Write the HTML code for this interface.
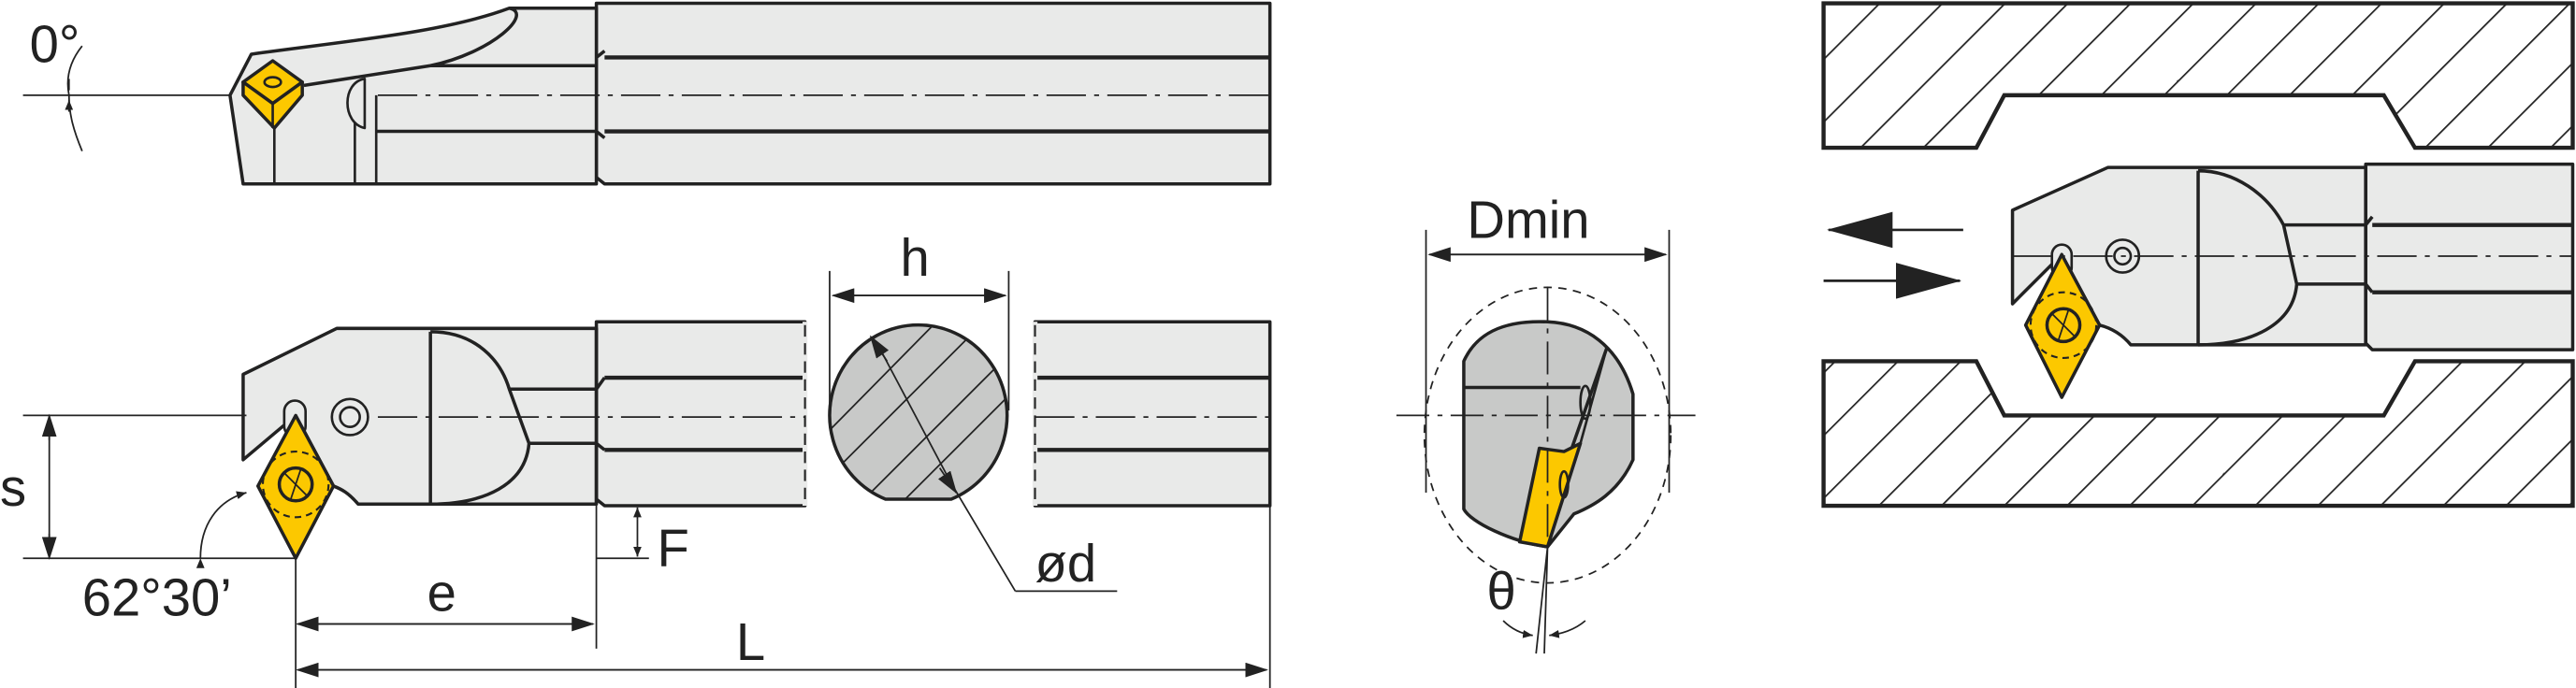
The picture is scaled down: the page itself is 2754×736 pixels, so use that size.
<!DOCTYPE html>
<html><head><meta charset="utf-8"><style>html,body{margin:0;padding:0;background:#fff}svg{display:block}text{font-family:"Liberation Sans",sans-serif;fill:#222}</style></head><body>
<svg width="2754" height="736" viewBox="0 0 1568 419" preserveAspectRatio="none" xmlns="http://www.w3.org/2000/svg">
<defs>
<pattern id="hat" patternUnits="userSpaceOnUse" width="27" height="27" patternTransform="rotate(45)">
<rect width="27" height="27" fill="#fff"/><line x1="0" y1="0" x2="0" y2="27" stroke="#222" stroke-width="2"/></pattern>
<clipPath id="sec"><path d="M539,304A54,55 0 1 1 579,304Z"/></clipPath>
<marker id="a" markerWidth="14" markerHeight="9" refX="13" refY="4.5" orient="auto" markerUnits="userSpaceOnUse"><path d="M0,0L14,4.5L0,9z" fill="#222"/></marker>
<marker id="as" markerWidth="6" markerHeight="5" refX="6" refY="2.5" orient="auto" markerUnits="userSpaceOnUse"><path d="M0,0L6,2.5L0,5z" fill="#222"/></marker>
<marker id="ab" markerWidth="40" markerHeight="22" refX="39" refY="11" orient="auto" markerUnits="userSpaceOnUse"><path d="M0,0L40,11L0,22z" fill="#222"/></marker>
</defs>
<g stroke="#222" stroke-width="2" fill="#e9eae9" stroke-linejoin="round">
<!-- TOP VIEW -->
<path d="M363,2H773V112H368L363,108V35Z"/>
<path d="M368,35H773M368,80H773" fill="none" stroke-width="2.5"/>
<path d="M363,35L368,31M363,80L368,84" fill="none"/>
<path d="M140,58L153,33C210,25 270,20 310,5H363V112H148Z"/>
<path d="M310,5C325,8 300,32 262,40H363M185,52L262,40" fill="none"/>
<path d="M229,80H363" fill="none"/>
<path d="M167,75V112M216,65V112M229,58V112" fill="none" stroke-width="1.5"/>
<path d="M222,48C208,50 208,75 222,78Z" fill="#e9eae9" stroke-width="1.5"/>
<path d="M148,50L166,37L184,50L166,63Z" fill="#fcc800"/>
<path d="M148,50V58L167,78L184,58V50L166,63Z" fill="#fcc800"/>
<path d="M166,63V78" fill="none" stroke-width="1.5"/>
<ellipse cx="166" cy="50" rx="5" ry="3" fill="none" stroke-width="1.5"/>
<!-- BOTTOM VIEW -->
<path d="M363,196H490V308H368L363,304Z"/>
<path d="M630,196H773V308H630Z"/>
<path d="M368,230H490M368,274H490M630,230H773M630,274H773" fill="none" stroke-width="2.5"/>
<path d="M490,196V308M630,196V308" fill="none" stroke="#e9eae9" stroke-width="3"/>
<path d="M490,198V308M630,198V308" fill="none" stroke-width="1.2" stroke-dasharray="7,4"/>
<path d="M148,228L205,200H363V307H218C212,300 208,298 203,296L180,253L148,280Z"/>
<path d="M363,200V307M363,237L368,230M363,270L368,274" fill="none"/>
<path d="M262,202V307M262,202C290,202 305,220 310,237H363M310,237L322,270H363M322,270C320,295 295,307 262,307" fill="none"/>
<path d="M539,304A54,55 0 1 1 579,304Z" fill="#c8c9c8"/>
<g clip-path="url(#sec)" stroke-width="1" fill="none">
<path d="M505,262L570,196M505,290L598,197M525,305L613,217M545,310L615,240"/>
</g>
<circle cx="213" cy="254" r="11" fill="none" stroke-width="1.5"/><circle cx="213" cy="254" r="6" fill="none" stroke-width="1.5"/>
<rect x="173" y="244" width="13" height="22" rx="6.5" fill="#e9eae9" stroke-width="1.5"/>
<path d="M180,253L203,296L180,340L157,296Z" fill="#fcc800"/>
<circle cx="180" cy="295" r="20" fill="none" stroke-width="1.2" stroke-dasharray="4,3"/>
<circle cx="180" cy="295" r="10" fill="none"/>
<path d="M173,288L187,302M183,286L177,304" stroke-width="1" fill="none"/>
</g>
<g stroke="#222" stroke-width="1" fill="none">
<path d="M230,58H773M230,254H490M630,254H773" stroke-dasharray="24,5,3,5"/>
<path d="M14,58H140M14,253H150M14,340H180M363,340H395M180,340V419M363,308V395M773,308V419M505,165V250M614,165V250M868,140V300M1016,140V300"/>
<path d="M30,268V253" marker-end="url(#a)"/><path d="M30,325V340" marker-end="url(#a)"/><path d="M30,260V335"/>
<path d="M190,380H361" marker-end="url(#a)"/><path d="M350,380H181" marker-end="url(#a)"/>
<path d="M190,408H771" marker-end="url(#a)"/><path d="M760,408H181" marker-end="url(#a)"/>
<path d="M515,180H612" marker-end="url(#a)"/><path d="M600,180H507" marker-end="url(#a)"/>
<path d="M878,155H1014" marker-end="url(#a)"/><path d="M1004,155H870" marker-end="url(#a)"/>
<path d="M388,316V309" marker-end="url(#as)"/><path d="M388,332V339" marker-end="url(#as)"/>
<path d="M388,316V332"/>
<path d="M537,215L582,300M618,360H680M580,296L618,360"/>
<path d="M540,220L530,205" marker-end="url(#a)"/><path d="M572,285L582,300" marker-end="url(#a)"/>
<path d="M122,340C122,320 132,305 150,300" marker-end="url(#as)" marker-start="url(#as)"/>
<path d="M42,48L42,55M42,68L42,61" marker-end="url(#as)"/>
<path d="M50,28C42,38 40,48 42,58M42,58C42,70 45,80 50,92"/>
</g>
<text x="18" y="38" font-size="32">0°</text>
<text x="0" y="308" font-size="32">s</text>
<text x="50" y="375" font-size="32">62°30’</text>
<text x="260" y="372" font-size="32">e</text>
<text x="400" y="345" font-size="32">F</text>
<text x="448" y="402" font-size="32">L</text>
<text x="548" y="168" font-size="32">h</text>
<text x="630" y="354" font-size="32">ød</text>
<text x="893" y="145" font-size="32">Dmin</text>
<text x="905" y="371" font-size="32">θ</text>
<!-- MIDDLE -->
<g stroke="#222" stroke-width="2" stroke-linejoin="round">
<path d="M891,220C900,200 920,195 942,196C965,197 985,210 994,240V280C985,300 970,308 958,313L942,333C920,330 895,318 891,310Z" fill="#c8c9c8"/>
<path d="M891,236H962" fill="none"/>
<path d="M978,212L955,278L942,333" fill="#c8c9c8"/>
<path d="M937,273L952,275L962,270L942,333L925,330Z" fill="#fcc800"/>
<path d="M962,270L942,333M978,212L962,270" fill="none" stroke-width="1.5"/>
<ellipse cx="965" cy="245" rx="3" ry="10" fill="none" stroke-width="1.5"/>
<ellipse cx="952" cy="295" rx="2.5" ry="8" fill="none" stroke-width="1.5"/>
</g>
<g stroke="#222" stroke-width="1" fill="none">
<ellipse cx="942" cy="265" rx="75" ry="90" stroke-dasharray="5,4"/>
<path d="M850,253H1032M942,175V330" stroke-dasharray="20,5,3,5"/>
<path d="M942,333L935,398M942,333L940,398"/>
<path d="M915,378C920,383 926,386 933,387" marker-end="url(#as)"/><path d="M965,378C958,384 950,386 943,387" marker-end="url(#as)"/>
</g>
<!-- RIGHT -->
<g stroke="#222" stroke-width="2.5">
<path d="M1110,2H1566V90H1470L1451,58H1220L1203,90H1110Z" fill="url(#hat)"/>
<path d="M1110,220H1203L1220,253H1451L1470,220H1566V308H1110Z" fill="url(#hat)"/>
</g>
<g stroke="#222" stroke-width="2" fill="#e9eae9" stroke-linejoin="round">
<path d="M1440,100H1566V213H1444L1440,209Z"/>
<path d="M1444,137H1566M1444,178H1566" fill="none" stroke-width="2.5"/>
<path d="M1225,128L1283,102H1440V210H1297C1292,204 1286,200 1278,198L1255,155L1225,185Z"/>
<path d="M1440,102V210M1440,137L1444,132M1440,173L1444,178" fill="none"/>
<path d="M1338,104V210M1338,104C1360,104 1380,118 1390,137H1440M1390,137L1398,173H1440M1398,173C1396,198 1370,210 1338,210" fill="none"/>
<circle cx="1292" cy="156" r="10" fill="none" stroke-width="1.5"/><circle cx="1292" cy="156" r="5" fill="none" stroke-width="1.5"/>
<rect x="1249" y="149" width="12" height="20" rx="6" stroke-width="1.5"/>
<path d="M1255,155L1278,198L1255,242L1233,198Z" fill="#fcc800"/>
<circle cx="1256" cy="198" r="20" fill="none" stroke-width="1.2" stroke-dasharray="4,3"/>
<circle cx="1256" cy="198" r="10" fill="none"/>
<path d="M1249,191L1263,205M1259,189L1253,207" stroke-width="1" fill="none"/>
</g>
<path d="M1225,156H1566" stroke="#222" stroke-width="1" stroke-dasharray="24,5,3,5"/>
<path d="M1195,140H1113" stroke="#222" stroke-width="1.5" marker-end="url(#ab)"/>
<path d="M1110,171H1193" stroke="#222" stroke-width="1.5" marker-end="url(#ab)"/>
</svg>
</body></html>
